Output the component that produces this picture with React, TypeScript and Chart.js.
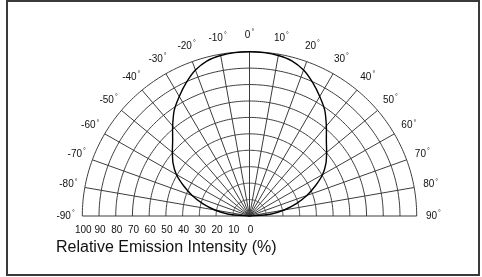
import React, { useEffect, useRef } from "react";
import { Chart, registerables } from "chart.js";

Chart.register(...registerables);

// Polar sample angles (degrees) and relative emission intensity (%)
const angles = [
  -90, -85, -80, -75, -70, -65, -60, -55, -50, -45, -40, -35, -30, -25, -20, -15, -10, -5,
  0, 5, 10, 15, 20, 25, 30, 35, 40, 45, 50, 55, 60, 65, 70, 75, 80, 85, 90,
];
const intensity = [
  0, 12.5, 21, 29, 36.5, 43.5, 50.5, 55.8, 60.2, 65, 71.5, 78.5, 84, 89.5, 94.5, 97.8, 99.2, 99.8,
  100, 99.8, 99.2, 97.8, 94.5, 89.5, 84, 78.5, 71.5, 65, 60.2, 55.8, 50.5, 43.5, 36.5, 29, 21, 12.5, 0,
];
const angleTicks = [-90, -80, -70, -60, -50, -40, -30, -20, -10, 0, 10, 20, 30, 40, 50, 60, 70, 80, 90];
const ringValues = [10, 20, 30, 40, 50, 60, 70, 80, 90, 100];
const intensityLabels = [100, 90, 80, 70, 60, 50, 40, 30, 20, 10, 0];
const axisTitle = "Relative Emission Intensity (%)";

const FONT = '"Liberation Sans", Arial, Helvetica, sans-serif';
const rad = (d: number) => (d * Math.PI) / 180;

const polarGrid = {
  id: "polarGrid",
  beforeDatasetsDraw(chart: any) {
    const { ctx, scales } = chart;
    const xs = scales.x;
    const ys = scales.y;
    const P = (r: number, deg: number) => [
      xs.getPixelForValue(r * Math.sin(rad(deg))),
      ys.getPixelForValue(r * Math.cos(rad(deg))),
    ];
    ctx.save();
    ctx.strokeStyle = "#3c3c3c";
    ctx.lineWidth = 1;
    for (const r of ringValues) {
      ctx.beginPath();
      for (let a = -90; a <= 90; a += 1) {
        const [px, py] = P(r, a);
        if (a === -90) ctx.moveTo(px, py);
        else ctx.lineTo(px, py);
      }
      ctx.stroke();
    }
    for (const a of angleTicks) {
      const [x0, y0] = P(0, a);
      const [x1, y1] = P(100, a);
      ctx.beginPath();
      ctx.moveTo(x0, y0);
      ctx.lineTo(x1, y1);
      ctx.stroke();
    }
    ctx.fillStyle = "#111";
    ctx.textBaseline = "middle";
    for (const a of angleTicks) {
      const [lx, ly] = P(110, a);
      const txt = String(a);
      ctx.font = `10px ${FONT}`;
      const w = ctx.measureText(txt).width;
      ctx.font = `7px ${FONT}`;
      const dw = ctx.measureText("°").width;
      const total = w + dw + 1;
      const left = lx - total / 2;
      ctx.font = `10px ${FONT}`;
      ctx.textAlign = "left";
      ctx.fillText(txt, left, ly);
      ctx.font = `7px ${FONT}`;
      ctx.fillText("°", left + w + 1, ly - 3);
    }
    const base = ys.getPixelForValue(0);
    ctx.font = `10px ${FONT}`;
    ctx.textAlign = "center";
    for (const v of intensityLabels) {
      ctx.fillText(String(v), xs.getPixelForValue(-v) + 1, base + 14);
    }
    ctx.font = `16px ${FONT}`;
    ctx.textAlign = "left";
    ctx.fillText(axisTitle, 56, base + 32);
    ctx.restore();
  },
  afterDraw(chart: any) {
    const { ctx } = chart;
    ctx.save();
    ctx.strokeStyle = "#3a3a3a";
    ctx.lineWidth = 2;
    ctx.strokeRect(7, 1, 472, 274);
    ctx.restore();
  },
};

export default function App() {
  const ref = useRef<HTMLCanvasElement | null>(null);
  useEffect(() => {
    if (!ref.current) return;
    const points = angles.map((a, i) => ({
      x: intensity[i] * Math.sin(rad(a)),
      y: intensity[i] * Math.cos(rad(a)),
    }));
    const chart = new Chart(ref.current, {
      type: "scatter",
      data: {
        datasets: [
          {
            data: points,
            showLine: true,
            borderColor: "#000",
            borderWidth: 1.4,
            pointRadius: 0,
            tension: 0.25,
            fill: false,
          },
        ],
      },
      options: {
        animation: false,
        responsive: false,
        maintainAspectRatio: false,
        clip: false as any,
        layout: { padding: { left: 82.3, right: 65.3, top: 51.7, bottom: 61 } },
        plugins: { legend: { display: false }, tooltip: { enabled: false } },
        scales: {
          x: { type: "linear", min: -100, max: 100, display: false },
          y: { type: "linear", min: 0, max: 100, display: false },
        },
      },
      plugins: [polarGrid],
    });
    return () => chart.destroy();
  }, []);
  return (
    <div style={{ position: "absolute", left: 0, top: 0, width: 482, height: 277, background: "#fff" }}>
      <canvas ref={ref} width={482} height={277} style={{ display: "block" }} />
    </div>
  );
}
